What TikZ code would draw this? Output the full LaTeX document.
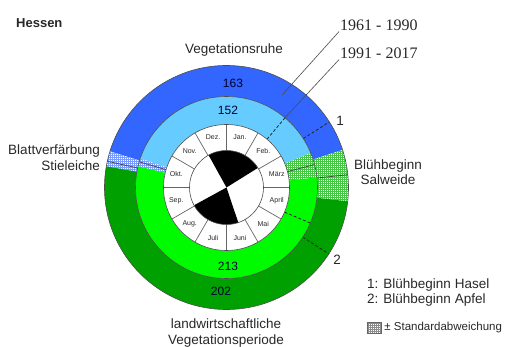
\documentclass[tikz,border=0pt]{standalone}
\usepackage{fontspec}
\setmainfont{Liberation Sans}
\newfontfamily\timesfont{Liberation Serif}
\usepackage{tikz}
\usetikzlibrary{patterns,patterns.meta,positioning}
\definecolor{ruheblau}{RGB}{51,102,255}
\definecolor{ruhehell}{RGB}{102,204,255}
\definecolor{vegdunkel}{RGB}{0,160,0}
\definecolor{veghell}{RGB}{0,250,0}
\definecolor{schrift}{RGB}{40,40,40}
\definecolor{gitter}{RGB}{70,200,70}
\newcommand{\ringteil}[5]{\fill[#5] (#1:#3) arc[start angle=#1,end angle=#2,radius=#3] -- (#2:#4) arc[start angle=#2,end angle=#1,radius=#4] -- cycle;}
\tikzset{
  lbl/.style={font=\fontsize{13.5}{15.5}\selectfont, text=schrift, inner sep=1pt},
  zahl/.style={font=\fontsize{12}{14}\selectfont, text=black!80!blue, inner sep=1pt},
  monat/.style={font=\fontsize{7}{8}\selectfont, text=schrift, inner sep=0pt},
  jahr/.style={font=\timesfont\fontsize{16}{18}\selectfont, text=schrift, anchor=west, inner sep=1pt},
  stdab/.style={preaction={fill=white},
    preaction={pattern={Lines[angle=0,distance=2pt,line width=0.5pt]}, pattern color=#1},
    pattern={Lines[angle=90,distance=2pt,line width=0.5pt]}, pattern color=#1},
  mittel/.style={draw=black!70, line width=0.8pt},
  marke/.style={draw=black!85, dash pattern=on 3pt off 2pt, line width=0.8pt},
  leiter/.style={draw=black!70, line width=0.6pt},
  rand/.style={draw=black!70, line width=0.6pt}
}
\begin{document}
\begin{tikzpicture}[x=1pt,y=1pt]
\useasboundingbox[fill=white] (-226.5,-159.5) rectangle (283.5,187.5);

\ringteil{17.9}{162.8}{122}{91}{ruheblau}
\ringteil{-6.5}{17.9}{122}{91}{stdab=gitter}
\ringteil{162.8}{170}{122}{91}{stdab=ruheblau!65}
\ringteil{170}{353.5}{122}{91}{vegdunkel}
\ringteil{22.3}{161.4}{91}{63}{ruhehell}
\ringteil{6.4}{22.3}{91}{63}{stdab=gitter}
\ringteil{161.4}{166.5}{91}{63}{stdab=ruheblau!65}
\ringteil{166.5}{366.4}{91}{63}{veghell}

\draw[mittel] (6:91) -- (6:122) (167.6:91) -- (167.6:122);
\draw[mittel] (14.6:63) -- (14.6:91) (163.6:63) -- (163.6:91);
\draw[marke] (50:63) -- (50:91) (32.5:91) -- (32.5:122);
\draw[marke] (-23:63) -- (-23:91) (-33:91) -- (-33:122);

\fill[white] (0,0) circle[radius=63];
\fill[black] (0,0) -- (32:37) arc[start angle=32,end angle=119,radius=37] -- cycle;
\fill[black] (0,0) -- (208.7:37) arc[start angle=208.7,end angle=288.6,radius=37] -- cycle;
\foreach \w in {0,30,...,330}
  \draw[black!60, line width=0.7pt] (\w:37) -- (\w:63);
\foreach \r in {37,63,91,122}
  \draw[rand] (0,0) circle[radius=\r];
\foreach \m [count=\i] in {Jan.,Feb.,März,April,Mai,Juni,Juli,Aug.,Sep.,Okt.,Nov.,Dez.}
  \node[monat] (m\i) at ({105-30*\i}:52) {\m};

\node[zahl] (n163) at (6.5,104.5) {163};
\node[zahl] (n152) at (1.5,77.5) {152};
\node[zahl] (n213) at (1.5,-78.5) {213};
\node[zahl] (n202) at (-5.5,-103.5) {202};

\node[lbl, anchor=west, font=\bfseries\fontsize{13}{15}\selectfont] (hessen) at (-211.5,164.5) {Hessen};
\node[lbl] (ruhe) at (7.5,137.5) {Vegetationsruhe};
\node[jahr] (p6190) at (112.5,162.5) {1961 - 1990};
\node[jahr] (p9117) at (112.5,134.5) {1991 - 2017};
\node[lbl, align=right, anchor=east] (blatt) at (-125.5,30) {Blattverfärbung\\Stieleiche};
\node[lbl, align=center] (salweide) at (161.5,15.5) {Blühbeginn\\Salweide};
\node[lbl] (eins) at (113.5,66.5) {1};
\node[lbl] (zwei) at (110.5,-72.5) {2};
\node[lbl, align=left, anchor=west] (phasen) at (139.5,-105) {1: Blühbeginn Hasel\\2: Blühbeginn Apfel};
\node[draw=black!60, stdab=black!45, minimum width=14pt, minimum height=11pt, inner sep=0pt] (stdbox) at (147.5,-140) {};
\node[lbl, font=\fontsize{11.5}{13}\selectfont, right=2pt of stdbox] (stdtext) {± Standardabweichung};
\node[lbl, align=center] (periode) at (-0.5,-145.5) {landwirtschaftliche\\Vegetationsperiode};

\coordinate (z6190) at (59:108);
\coordinate (h9117) at (50:91);
\draw[leiter] (z6190) -- (p6190.south west);
\draw[leiter] (h9117) -- (p9117.south west);
\end{tikzpicture}
\end{document}
